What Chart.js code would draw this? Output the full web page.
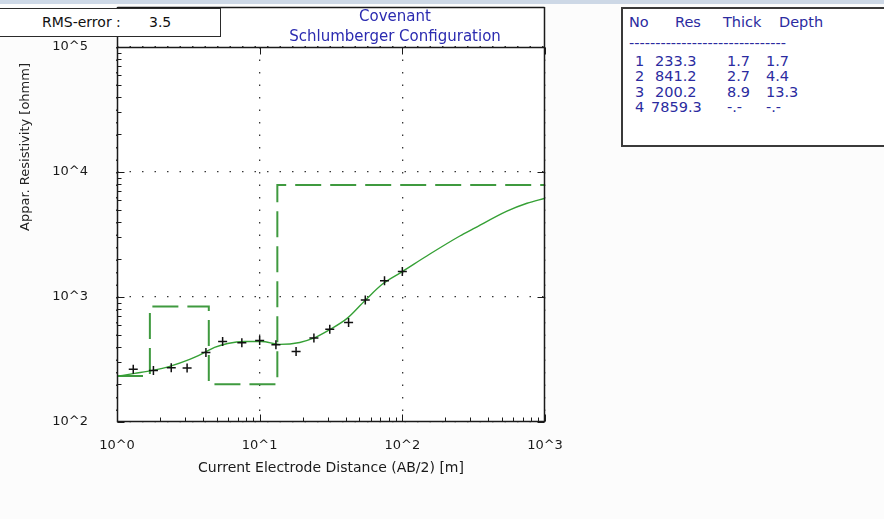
<!DOCTYPE html>
<html>
<head>
<meta charset="utf-8">
<title>Covenant - Schlumberger sounding</title>
<script src="https://cdn.jsdelivr.net/npm/chart.js@4.4.1/dist/chart.umd.min.js"></script>
<style>
  body { margin: 0; background: #fcfcfc; font-family: "DejaVu Sans", sans-serif; }
  #wrap { position: relative; width: 884px; height: 519px; overflow: hidden; }
  #topbar { position: absolute; left: 0; top: 0; width: 884px; height: 4px; background: #cdd8e6; }
  canvas { position: absolute; left: 0; top: 0; }
  #rms { position: absolute; left: -2px; top: 8px; width: 221px; height: 27px; border: 1px solid #2a2a2a;
         background: #fff; font-size: 14px; color: #111; }
  #rms span { position: absolute; top: 5.5px; line-height: 15px; }
  #layers { position: absolute; left: 621px; top: 7px; width: 280px; height: 136px; border: 2px solid #3a3a3a;
            border-right: none; background: #fff; color: #2b2ba0; font-size: 14.5px; }
  #layers span { position: absolute; white-space: pre; line-height: 15px; }
</style>
</head>
<body>
<div id="wrap">
  <canvas id="chart" width="884" height="519"></canvas>
  <div id="topbar"></div>
  <div id="rms"></div>
  <div id="layers"></div>
</div>
<script>
// measured sounding: AB/2 [m] and apparent resistivity [ohmm]
const abHalf = [1.3, 1.8, 2.4, 3.1, 4.2, 5.5, 7.5, 10, 13, 18, 24, 31, 42, 55, 75, 100];
const appRes = [264, 258, 272, 270, 359, 441, 431, 449, 415, 367, 469, 552, 625, 946, 1349, 1600];

// calculated response of the layered model
const curveAB = [1, 1.33, 1.77, 2.34, 3.23, 4.11, 4.83, 5.96, 7.85, 10.3, 13.8, 19.1, 23.6, 31, 40.8, 54.6, 73, 99.2, 156, 253, 313, 541, 748, 1000];
const curveRes = [232, 245, 259, 279, 317, 360, 395, 425, 441, 441, 418, 433, 466, 549, 671, 935, 1276, 1588, 2207, 3076, 3500, 4864, 5623, 6166];

// layered model
const layerNo = [1, 2, 3, 4];
const layerRes = [233.3, 841.2, 200.2, 7859.3];
const layerThick = [1.7, 2.7, 8.9, null];
const layerDepth = [1.7, 4.4, 13.3, null];

const rmsError = 3.5;
const titleLines = ['Covenant', 'Schlumberger Configuration'];

const xTicks = [1, 10, 100, 1000];
const yTicks = [100, 1000, 10000, 100000];

const FONT = '"DejaVu Sans", sans-serif';
const FRAME_TOP = 7;

// step line of the model, from the first axis value to the last
const stepPts = [];
let segStart = xTicks[0];
layerRes.forEach((r, i) => {
    const segEnd = layerDepth[i] == null ? xTicks[xTicks.length - 1] : layerDepth[i];
    stepPts.push({ x: segStart, y: r }, { x: segEnd, y: r });
    segStart = segEnd;
});

const decadeLabel = v => '10^' + Math.round(Math.log10(v));

function minorValues(ticks) {
    const out = [];
    for (let i = 0; i < ticks.length - 1; i++) {
        for (let k = 2; k <= 9; k++) out.push(ticks[i] * k);
    }
    return out;
}

// outer frame, axis tick marks, header text and the y title
const framePlugin = {
    id: 'frame',
    beforeDraw(chart) {
        const { ctx, chartArea: a } = chart;
        ctx.save();
        ctx.fillStyle = '#ffffff';
        ctx.fillRect(a.left, FRAME_TOP, a.right - a.left, a.bottom - FRAME_TOP);
        ctx.restore();
    },
    afterDatasetsDraw(chart) {
        const { ctx, chartArea: a, scales } = chart;
        const L = Math.round(a.left) + 0.5, R = Math.round(a.right) - 0.5;
        const T = Math.round(a.top) + 0.5, B = Math.round(a.bottom) - 0.5;
        ctx.save();
        ctx.strokeStyle = '#1a1a1a';
        ctx.lineWidth = 1.5;
        ctx.beginPath();
        ctx.moveTo(L, FRAME_TOP + 0.5); ctx.lineTo(R, FRAME_TOP + 0.5);
        ctx.moveTo(L, FRAME_TOP); ctx.lineTo(L, B);
        ctx.lineTo(R, B); ctx.lineTo(R, FRAME_TOP);
        ctx.moveTo(L, T); ctx.lineTo(R, T);
        ctx.stroke();

        ctx.lineWidth = 1;
        ctx.beginPath();
        xTicks.forEach(v => {
            const px = Math.round(scales.x.getPixelForValue(v)) + 0.5;
            ctx.moveTo(px, B); ctx.lineTo(px, B - 7);
            ctx.moveTo(px, T); ctx.lineTo(px, T + 7);
        });
        minorValues(xTicks).forEach(v => {
            const px = Math.round(scales.x.getPixelForValue(v)) + 0.5;
            ctx.moveTo(px, B); ctx.lineTo(px, B - 4);
        });
        yTicks.forEach(v => {
            const py = Math.round(scales.y.getPixelForValue(v)) + 0.5;
            ctx.moveTo(L, py); ctx.lineTo(L + 7, py);
            ctx.moveTo(R, py); ctx.lineTo(R - 7, py);
        });
        minorValues(yTicks).forEach(v => {
            const py = Math.round(scales.y.getPixelForValue(v)) + 0.5;
            ctx.moveTo(L, py); ctx.lineTo(L + 4, py);
        });
        ctx.stroke();

        // two-line heading in the band above 10^5
        ctx.fillStyle = '#2b2bb0';
        ctx.font = '15px ' + FONT;
        ctx.textAlign = 'center';
        ctx.textBaseline = 'middle';
        ctx.fillText(titleLines[0], 395, 17);
        ctx.fillText(titleLines[1], 395, 37);

        ctx.fillStyle = '#222';
        ctx.font = '13px ' + FONT;
        ctx.textAlign = 'right';
        ctx.translate(26, 63);
        ctx.rotate(-Math.PI / 2);
        ctx.fillText('Appar. Resistivity [ohmm]', 0, 0);
        ctx.restore();
    }
};

const gridStyle = {
    color: 'rgba(20,20,20,0.85)',
    lineWidth: 1.3,
    drawTicks: false
};

new Chart(document.getElementById('chart'), {
    type: 'scatter',
    data: {
        datasets: [
            {
                label: 'Field data',
                data: abHalf.map((x, i) => ({ x, y: appRes[i] })),
                showLine: false,
                pointStyle: 'cross',
                pointRadius: 4.5,
                borderColor: '#111',
                borderWidth: 1.5
            },
            {
                label: 'Model response',
                data: curveAB.map((x, i) => ({ x, y: curveRes[i] })),
                showLine: true,
                pointRadius: 0,
                borderColor: '#35a035',
                borderWidth: 1.4,
                cubicInterpolationMode: 'monotone'
            },
            {
                label: 'Layer model',
                data: stepPts,
                showLine: true,
                pointRadius: 0,
                borderColor: '#3f9a3f',
                borderWidth: 2,
                borderDash: [26, 9]
            }
        ]
    },
    options: {
        responsive: false,
        animation: false,
        layout: { padding: { top: 47, left: 0, right: 339, bottom: 0 } },
        plugins: {
            legend: { display: false },
            tooltip: { enabled: false },
            title: { display: false }
        },
        scales: {
            x: {
                type: 'logarithmic',
                min: xTicks[0],
                max: xTicks[xTicks.length - 1],
                afterBuildTicks: s => { s.ticks = xTicks.map(value => ({ value })); },
                afterFit: s => { s.height = 97; },
                ticks: {
                    callback: v => decadeLabel(v),
                    autoSkip: false,
                    maxRotation: 0,
                    padding: 16,
                    color: '#1a1a1a',
                    font: { family: FONT, size: 13 }
                },
                grid: gridStyle,
                border: { display: false, dash: [1.5, 11] },
                title: {
                    display: true,
                    text: 'Current Electrode Distance (AB/2) [m]',
                    color: '#1a1a1a',
                    font: { family: FONT, size: 14 },
                    padding: { top: 0, bottom: 42 }
                }
            },
            y: {
                type: 'logarithmic',
                min: yTicks[0],
                max: yTicks[yTicks.length - 1],
                afterBuildTicks: s => { s.ticks = yTicks.map(value => ({ value })); },
                afterFit: s => { s.width = 117; },
                ticks: {
                    callback: v => decadeLabel(v),
                    autoSkip: false,
                    padding: 29,
                    color: '#1a1a1a',
                    font: { family: FONT, size: 13 }
                },
                grid: gridStyle,
                border: { display: false, dash: [1.5, 11] }
            }
        }
    },
    plugins: [framePlugin]
});

// RMS box
document.getElementById('rms').innerHTML =
    '<span style="left:43px">RMS-error :</span><span style="left:150px">' + rmsError.toFixed(1) + '</span>';

// layer table
const headX = [6, 52, 100, 156];
const cellX = [12, 32, 104, 143];
const headY = 5.5, dashY = 26.5;
const rowY = [44.5, 59.5, 75.5, 90.5];
const layersEl = document.getElementById('layers');
let html = '';
['No', 'Res', 'Thick', 'Depth'].forEach((h, j) => {
    html += `<span style="left:${headX[j]}px;top:${headY}px">${h}</span>`;
});
html += `<span style="left:${headX[0]}px;top:${dashY}px">${'-'.repeat(30)}</span>`;
layerNo.forEach((n, i) => {
    const res = layerRes[i].toFixed(1);
    const cells = [
        String(n),
        res,
        layerThick[i] == null ? '-.-' : layerThick[i].toFixed(1),
        layerDepth[i] == null ? '-.-' : layerDepth[i].toFixed(1)
    ];
    cells.forEach((c, j) => {
        const x = j === 1 && res.length > 5 ? cellX[j] - 4 : cellX[j];
        html += `<span style="left:${x}px;top:${rowY[i]}px">${c}</span>`;
    });
});
layersEl.innerHTML = html;
</script>
</body>
</html>
